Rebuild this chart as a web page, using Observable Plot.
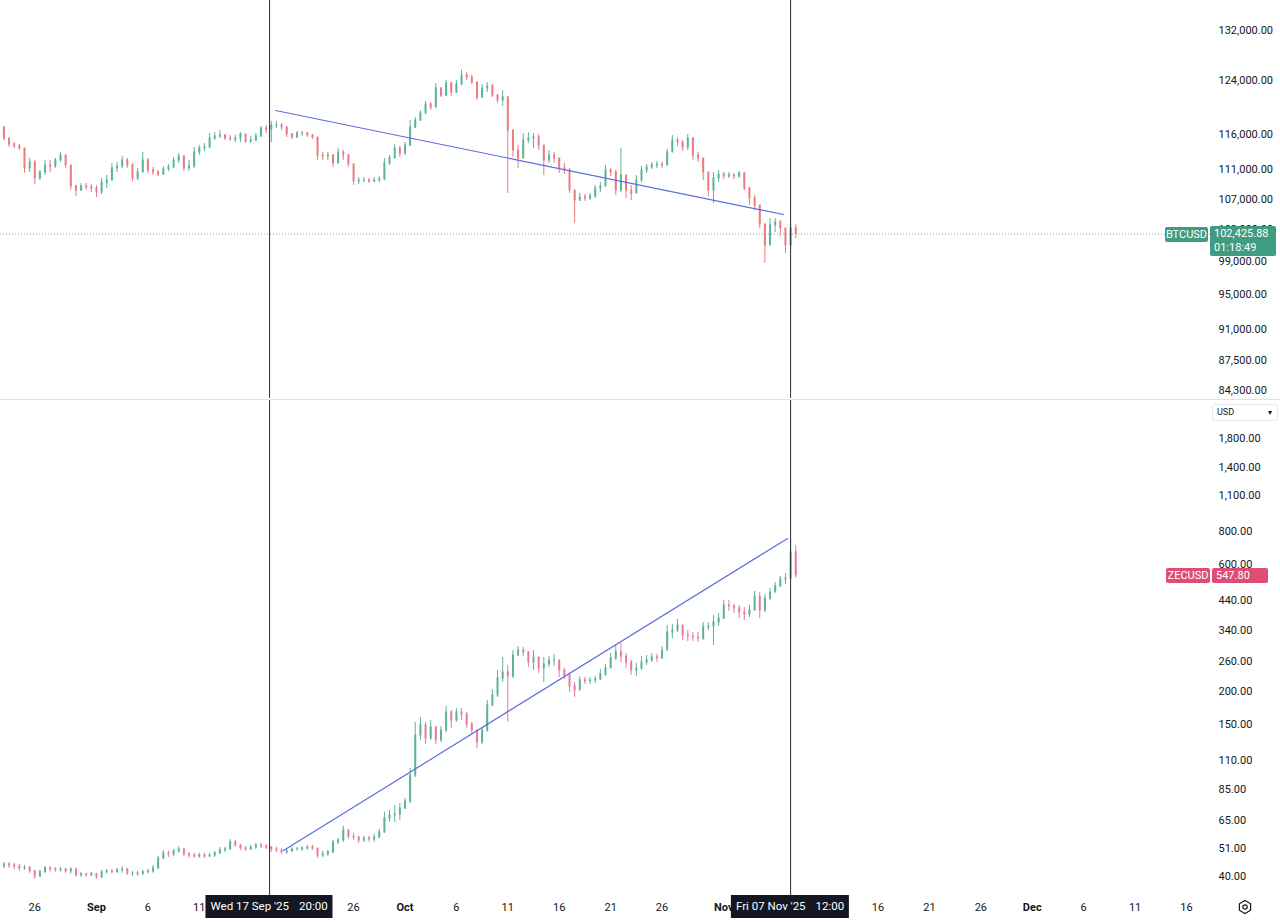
<!DOCTYPE html>
<html>
<head>
<meta charset="utf-8">
<script src="https://cdn.jsdelivr.net/npm/d3@7"></script>
<script src="https://cdn.jsdelivr.net/npm/@observablehq/plot@0.6"></script>
<style>
  html,body{margin:0;padding:0;background:#fff;}
  #chart{position:relative;width:1280px;height:924px;overflow:hidden;font-family:Roboto,"Liberation Sans",sans-serif;color:#131722;}
  .pane{position:absolute;left:0;}
  .sep{position:absolute;left:0;top:399px;width:1280px;height:1px;background:#e0e3eb;}
  .tag{position:absolute;color:#fff;font-size:11px;line-height:15px;box-sizing:border-box;white-space:nowrap;border-radius:2px;}
  .datetag{position:absolute;top:895px;height:23px;line-height:23px;background:#131722;color:#fff;font-size:11.5px;padding:0 5px;white-space:nowrap;transform:translateX(-50%);}
  .usd{position:absolute;left:1212px;top:404px;width:66px;height:17px;box-sizing:border-box;border:1px solid #e6e8ee;border-radius:3px;font-size:9px;line-height:15px;padding-left:4px;}
  .usd span{position:absolute;right:5px;top:0;font-size:8px;}
  .gear{position:absolute;left:1237px;top:899px;}
</style>
</head>
<body>
<div id="chart"></div>
<script>
// ---------------- DATA ----------------
const candleStart = "2025-08-23T00:00Z";   // first 12h candle
const candleHours = 12;

// BTCUSD 12h candles (open of each candle = previous close)
const btcOpen0 = 116980;
const btcClose = [
  115390,114520,114240,113950,111160,111990,109780,110600,111570,111430,
  112270,112970,111570,108690,108150,108690,108560,108420,107880,109230,
  109500,111160,111430,112270,111570,109780,110600,112270,110880,110600,
  110330,111020,111300,112270,112830,111160,111430,113390,113950,114100,
  115390,115680,115820,115390,115240,115390,115960,114960,115100,115680,
  116830,116690,117270,117270,116980,115960,115530,116110,116110,115820,
  115530,112970,112830,112970,111850,113390,112970,111710,109370,109500,
  109500,109370,109500,109640,111850,112550,113950,113250,114380,116980,
  118000,119040,120380,119930,122800,121730,123570,122190,123410,124820,
  124500,123720,121430,122800,123110,121730,120980,121430,116540,113670,
  112550,115100,115390,115530,114380,112270,112970,112550,111160,110880,
  108150,106810,107210,107080,107350,108420,108690,110880,110600,108150,
  110190,108150,107750,109500,110880,111300,111570,111710,111570,113390,
  115100,114810,114100,115390,112970,112550,110600,108150,109780,110330,
  110050,110190,110050,110470,108420,107080,106150,103670,100990,103540,
  103920,103150,100990,103150,102425.88
];
const btcHigh = [
  117120,115390,114810,114520,113950,112550,112270,110880,112270,112270,
  112550,113390,112970,111570,108830,109100,109100,108960,108830,109780,
  110190,111850,111990,112830,112550,111850,111160,113390,112550,111300,
  110880,111430,111710,112690,113250,112970,112270,114100,114380,114670,
  116110,116250,116540,115960,115820,115820,116250,115960,115680,116110,
  117120,117270,117850,117850,117560,117120,116110,116400,116400,116250,
  115960,115530,113390,113390,113110,113950,113670,113110,111710,109910,
  109910,109780,109910,110050,112550,112970,114520,114240,114810,118000,
  118440,119480,120830,120680,123570,122950,124030,123720,124030,125600,
  125290,124820,123720,123410,123720,123410,121880,122490,121600,116540,
  114380,116110,116250,116110,115960,114380,113670,113390,112550,111850,
  111160,108150,107750,107610,107750,108830,109230,111570,111160,110880,
  113950,110190,108830,110190,111430,111710,111990,112130,111990,113810,
  115820,115530,115100,115960,115530,113390,112550,110600,110600,110880,
  110600,110600,110470,110740,110600,108560,107480,106150,103670,104440,
  104440,104180,103150,103920,103670
];
const btcLow = [
  115100,114100,113950,113670,110470,110600,108960,109500,110190,110600,
  111160,111990,111160,108150,107350,108020,108150,107880,107210,107610,
  108420,109500,110600,111160,111160,109370,109500,110600,110470,110190,
  110050,110190,110740,111160,111850,110740,110740,111160,112970,113530,
  113950,115100,115390,115100,114960,114810,114810,114670,114670,114960,
  115530,116110,114810,116830,116540,115530,115240,115390,115680,115530,
  115240,112270,112270,112270,111300,111850,112270,111300,108830,108960,
  109230,109100,109230,109230,109500,111570,112550,112690,112970,114240,
  116830,117850,118890,119480,119930,121430,121580,121580,122030,123260,
  124030,123410,120980,121280,122190,121430,120530,120080,107750,112690,
  111160,112550,114670,113950,113670,110190,111850,111850,110470,110330,
  107750,103800,106680,106680,106810,107080,107880,108690,110050,107480,
  107880,107080,106810,107750,109230,110470,111020,111160,111160,111570,
  113390,114240,113530,113670,112270,111990,109500,107350,106410,109230,
  109640,109780,109640,109780,108150,106150,105490,103150,98750,100990,
  102640,102120,99990,100360,101870
];

// ZECUSD 12h candles
const zecOpen0 = 43.6;
const zecClose = [
  44.4,44.0,43.6,42.9,43.2,41.8,40.0,41.5,42.9,42.5,
  42.2,42.5,41.8,42.5,40.4,40.8,40.4,40.8,39.7,41.5,
  41.8,41.5,42.2,42.5,41.1,41.1,40.8,41.5,41.8,42.9,
  46.8,48.9,48.5,49.8,50.6,48.5,48.0,47.6,48.0,47.6,
  48.0,48.9,50.2,50.6,53.8,52.4,51.0,50.6,51.5,52.4,
  51.9,51.5,50.6,50.2,49.3,49.8,50.6,50.6,51.0,51.5,
  51.0,48.0,48.5,49.3,53.8,54.7,59.7,56.6,56.1,54.7,
  55.6,55.2,56.1,58.7,66.3,68.0,68.6,72.2,76.7,96.2,
  136.2,148.6,132.7,146.0,130.5,142.3,166.4,155.2,166.4,163.5,
  149.9,142.3,128.3,142.3,176.9,192.9,223.6,235.6,227.5,273.1,
  285.2,280.3,257.0,268.4,244.0,252.6,261.5,261.5,239.7,229.5,
  208.6,201.5,219.8,217.9,219.8,221.7,231.5,244.0,266.1,280.3,
  270.7,257.0,239.7,244.0,257.0,261.5,268.4,266.1,285.2,333.5,
  339.3,354.4,324.9,322.1,319.3,316.5,348.3,351.3,363.7,376.5,
  421.6,418.0,410.8,396.7,389.9,403.7,455.9,403.7,448.1,472.0,
  497.4,528.6,533.1,668.4,547.8
];
const zecHigh = [
  45.2,45.2,44.8,44.4,44.0,43.6,42.2,42.2,43.6,43.6,
  43.2,43.2,42.9,43.2,42.9,41.5,41.1,41.5,41.1,42.2,
  42.5,42.5,42.9,43.6,42.9,41.8,41.8,42.2,42.5,44.0,
  47.6,50.2,49.8,50.6,51.9,51.0,49.3,48.9,48.9,48.9,
  48.9,49.8,51.5,51.5,55.2,54.7,52.8,51.9,52.4,53.3,
  53.3,52.8,51.9,51.5,51.0,51.0,51.5,51.5,51.9,52.4,
  52.4,51.0,49.8,50.2,54.7,55.6,61.8,60.2,58.2,56.6,
  56.6,56.6,57.7,60.2,69.8,71.0,74.1,75.4,78.8,102.3,
  152.5,159.3,152.5,155.2,147.3,147.3,175.4,169.3,172.3,172.3,
  166.4,152.5,142.3,146.0,184.7,203.2,239.7,268.4,250.4,285.2,
  295.3,292.8,282.7,285.2,268.4,268.4,270.7,275.5,261.5,244.0,
  231.5,216.0,227.5,225.5,225.5,227.5,241.9,252.6,277.9,297.9,
  303.1,277.9,261.5,254.8,270.7,273.1,277.9,275.5,295.3,354.4,
  357.5,373.3,354.4,339.3,333.5,333.5,363.7,363.7,386.5,393.3,
  440.3,440.3,425.3,421.6,414.3,421.6,476.1,472.0,463.9,488.8,
  515.0,542.5,556.8,741.8,710.3
];
const zecLow = [
  42.9,42.9,42.5,41.8,42.2,41.1,39.0,39.7,41.1,41.5,
  41.5,41.5,41.1,40.8,39.7,39.7,39.7,40.0,39.0,39.3,
  40.8,40.8,41.1,41.1,40.4,40.0,40.0,40.4,40.8,41.1,
  42.5,46.4,47.2,47.6,48.9,47.6,46.8,46.8,46.8,46.8,
  47.2,47.2,48.5,49.3,50.2,51.5,50.2,49.8,50.2,50.6,
  51.0,50.6,49.3,49.3,48.5,48.5,49.3,49.8,49.8,50.2,
  50.2,46.8,47.2,47.6,48.9,52.8,53.8,55.2,54.7,53.3,
  53.8,53.8,53.8,55.6,58.2,64.0,64.0,65.1,71.6,75.4,
  94.5,130.5,126.0,130.5,126.0,128.3,139.8,144.8,152.5,155.2,
  144.8,137.4,121.7,126.0,139.8,175.4,189.6,216.0,152.5,223.6,
  270.7,270.7,246.1,239.7,233.5,216.0,246.1,248.2,225.5,221.7,
  198.0,189.6,201.5,212.3,212.3,214.1,219.8,227.5,244.0,261.5,
  257.0,244.0,229.5,227.5,239.7,250.4,257.0,257.0,263.8,285.2,
  316.5,333.5,311.1,308.4,308.4,305.7,311.1,339.3,297.9,351.3,
  373.3,400.2,393.3,376.5,370.1,379.8,403.7,376.5,396.7,440.3,
  472.0,493.1,506.1,524.0,533.1
];

// Drawn trend lines (two anchor points each)
const btcTrendTimes = ["2025-09-18T10:00Z", "2025-11-06T19:30Z"];
const btcTrendValues = [119480, 104960];
const zecTrendTimes = ["2025-09-19T04:30Z", "2025-11-07T05:00Z"];
const zecTrendValues = [50.1, 755];

// Crosshair / marker times
const markerTimes = ["2025-09-17T20:00Z", "2025-11-07T12:00Z"];

// Last prices and countdown
const btcLast = 102425.88;
const btcCountdown = "01:18:49";
const zecLast = 547.80;

// Axis ticks (labels hidden under the date tags in the reference are left out)
const btcTicks = [132000, 124000, 116000, 111000, 107000, 103000, 99000, 95000, 91000, 87500, 84300];
const zecTicks = [1800, 1400, 1100, 800, 600, 440, 340, 260, 200, 150, 110, 85, 65, 51, 40];
const dayTicks = ["2025-08-26","2025-09-06","2025-09-11","2025-09-26",
  "2025-10-06","2025-10-11","2025-10-16","2025-10-21","2025-10-26",
  "2025-11-16","2025-11-21","2025-11-26",
  "2025-12-06","2025-12-11","2025-12-16"];
const monthTicks = ["2025-09-01","2025-10-01","2025-11-01","2025-12-01"];

// Visible ranges
const xDomain = ["2025-08-22T16:00Z", "2025-12-18T08:00Z"];
const btcDomain = [83460, 137030];
const zecDomain = [33.9, 2504];

// ---------------- BUILD ----------------
const FONT = "Roboto, 'Liberation Sans', sans-serif";
const UP = "#5db399", BTC_DOWN = "#ea7b80", ZEC_DOWN = "#e87aa2";
const BTC_TAG = "#3f9c80", ZEC_TAG = "#df4d76";
const TREND = "#5a6ce6", CROSS = "#2a2e39";
const t0 = Date.parse(candleStart);

function candles(open0, close, high, low) {
  return close.map((c, i) => {
    const o = i === 0 ? open0 : close[i - 1];
    return {
      t: new Date(t0 + i * candleHours * 3600e3),
      o, c,
      h: Math.max(high[i], o, c),
      l: Math.min(low[i], o, c),
      up: c >= o
    };
  });
}
const btcData = candles(btcOpen0, btcClose, btcHigh, btcLow);
const zecData = candles(zecOpen0, zecClose, zecHigh, zecLow);
const btcTrend = btcTrendTimes.map((t, i) => ({t: new Date(t), v: btcTrendValues[i]}));
const zecTrend = zecTrendTimes.map((t, i) => ({t: new Date(t), v: zecTrendValues[i]}));
const markers = markerTimes.map(d => new Date(d));
const xDom = xDomain.map(d => new Date(d));
const fmt = d3.format(",.2f");

function candleMarks(data, down) {
  const col = d => d.up ? UP : down;
  return [
    Plot.ruleX(data, {x: "t", y1: "h", y2: "l", stroke: col, strokeWidth: 1}),
    Plot.ruleX(data, {x: "t", y1: d => Math.max(d.o, d.c), y2: d => Math.min(d.o, d.c),
      stroke: col, strokeWidth: 2, insetTop: -0.5, insetBottom: -0.5})
  ];
}
function priceLabels(ticks) {
  return Plot.text(ticks, {y: d => d, text: d => fmt(d), frameAnchor: "right", dx: 8,
    textAnchor: "start", fill: "#131722", fontSize: 11});
}

const baseStyle = {fontFamily: FONT, fontSize: "11px", color: "#131722", background: "transparent", overflow: "visible"};

const topPlot = Plot.plot({
  width: 1280, height: 398,
  marginLeft: 0, marginRight: 70, marginTop: 0, marginBottom: 0,
  style: baseStyle,
  x: {type: "utc", domain: xDom, axis: null},
  y: {type: "log", domain: btcDomain, axis: null},
  color: {type: "identity"},
  marks: [
    Plot.ruleY([btcLast], {stroke: BTC_TAG, strokeDasharray: "1,2", strokeWidth: 1, strokeOpacity: 0.75}),
    ...candleMarks(btcData, BTC_DOWN),
    Plot.line(btcTrend, {x: "t", y: "v", stroke: TREND, strokeWidth: 1.2}),
    Plot.ruleX(markers, {stroke: CROSS, strokeWidth: 1}),
    priceLabels(btcTicks)
  ]
});

const botPlot = Plot.plot({
  width: 1280, height: 524,
  marginLeft: 0, marginRight: 70, marginTop: 0, marginBottom: 29,
  style: baseStyle,
  x: {type: "utc", domain: xDom},
  y: {type: "log", domain: zecDomain, axis: null},
  color: {type: "identity"},
  marks: [
    ...candleMarks(zecData, ZEC_DOWN),
    Plot.line(zecTrend, {x: "t", y: "v", stroke: TREND, strokeWidth: 1.2}),
    Plot.ruleX(markers, {stroke: CROSS, strokeWidth: 1}),
    priceLabels(zecTicks),
    Plot.axisX({ticks: dayTicks.map(d => new Date(d)), tickSize: 0, tickPadding: 8,
      tickFormat: d3.utcFormat("%-d"), label: null}),
    Plot.axisX({ticks: monthTicks.map(d => new Date(d)), tickSize: 0, tickPadding: 8,
      tickFormat: d3.utcFormat("%b"), fontWeight: "bold", label: null})
  ]
});

const chart = document.getElementById("chart");
function pane(el, top) {
  const d = document.createElement("div");
  d.className = "pane"; d.style.top = top + "px";
  d.appendChild(el); chart.appendChild(d);
}
pane(topPlot, 0);
pane(botPlot, 400);
const sep = document.createElement("div"); sep.className = "sep"; chart.appendChild(sep);

function div(cls, css, html) {
  const d = document.createElement("div");
  d.className = cls; d.style.cssText = css; d.innerHTML = html;
  chart.appendChild(d); return d;
}

// price tags
const yT = topPlot.scale("y"), yB = botPlot.scale("y"), xB = botPlot.scale("x");
const by = yT.apply(btcLast);
div("tag", `left:1165px;top:${by - 7}px;width:43px;height:15px;background:${BTC_TAG};text-align:center;`, "BTCUSD");
div("tag", `left:1210px;top:${by - 8}px;width:66px;height:30px;background:${BTC_TAG};padding:1px 0 0 4px;line-height:14px;`,
  `${fmt(btcLast)}<br>${btcCountdown}`);
const zy = 400 + yB.apply(zecLast);
div("tag", `left:1166px;top:${zy - 7}px;width:44px;height:15px;background:${ZEC_TAG};text-align:center;`, "ZECUSD");
div("tag", `left:1212px;top:${zy - 7}px;width:56px;height:15px;background:${ZEC_TAG};padding-left:4px;`, fmt(zecLast));

// marker date tags
const fDay = d3.utcFormat("%a %d %b '%y"), fTime = d3.utcFormat("%H:%M");
markers.forEach(m => {
  div("datetag", `left:${xB.apply(m)}px;`, `${fDay(m)}<span style="margin-left:10px">${fTime(m)}</span>`);
});

// currency selector and settings icon
div("usd", "", `USD<span>&#9662;</span>`);
div("gear", "", `<svg width="16" height="16" viewBox="0 0 16 16"><polygon points="8,1.5 13.6,4.75 13.6,11.25 8,14.5 2.4,11.25 2.4,4.75" fill="none" stroke="#131722" stroke-width="1.2"/><circle cx="8" cy="8" r="2.2" fill="none" stroke="#131722" stroke-width="1.2"/></svg>`);
</script>
</body>
</html>
